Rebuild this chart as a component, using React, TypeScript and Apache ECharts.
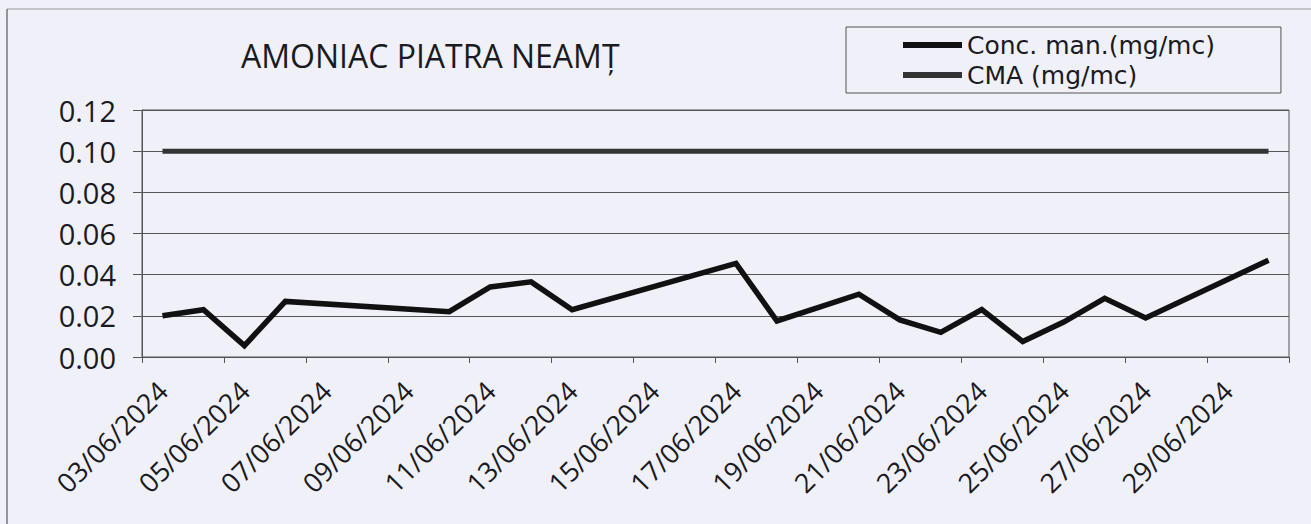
import React, { useEffect, useRef } from "react";
import * as echarts from "echarts";

const dates = [
  "03/06/2024", "04/06/2024", "05/06/2024", "06/06/2024", "07/06/2024", "08/06/2024", "09/06/2024",
  "10/06/2024", "11/06/2024", "12/06/2024", "13/06/2024", "14/06/2024", "15/06/2024", "16/06/2024",
  "17/06/2024", "18/06/2024", "19/06/2024", "20/06/2024", "21/06/2024", "22/06/2024", "23/06/2024",
  "24/06/2024", "25/06/2024", "26/06/2024", "27/06/2024", "28/06/2024", "29/06/2024", "30/06/2024",
];

const concMan: (number | null)[] = [
  0.020, 0.023, 0.0055, 0.027, null, null, null,
  0.022, 0.034, 0.0365, 0.023, null, null, null,
  0.0455, 0.0175, 0.024, 0.0305, 0.018, 0.012, 0.023,
  0.0075, 0.017, 0.0285, 0.019, null, null, 0.047,
];

const cma: number[] = dates.map(() => 0.1);

const seriesNames = ["Conc. man.(mg/mc)", "CMA (mg/mc)"];
const chartTitle = "AMONIAC PIATRA NEAMȚ";

const FONT = "'Open Sans', 'DejaVu Sans', sans-serif";
const LEGEND_FONT = "'DejaVu Sans', 'Open Sans', sans-serif";

export default function App() {
  const ref = useRef<HTMLDivElement>(null);
  useEffect(() => {
    if (!ref.current) return;
    const chart = echarts.init(ref.current, undefined, { renderer: "svg" });
    chart.setOption({
      animation: false,
      backgroundColor: "#eff0f8",
      title: {
        text: chartTitle,
        left: 236,
        top: 34,
        textStyle: { fontFamily: FONT, fontSize: 32, fontWeight: "normal", color: "#1a1a22" },
      },
      legend: {
        orient: "vertical",
        left: 846,
        top: 27,
        padding: [3, 66, 3, 57],
        itemGap: 0,
        itemWidth: 59,
        itemHeight: 6,
        icon: "rect",
        borderColor: "#555",
        borderWidth: 1,
        textStyle: { fontFamily: LEGEND_FONT, fontSize: 25, color: "#1a1a22", lineHeight: 30 },
        data: [
          { name: seriesNames[0], itemStyle: { color: "#111" } },
          { name: seriesNames[1], itemStyle: { color: "#333" } },
        ],
      },
      graphic: [
        {
          type: "line",
          shape: { x1: 7, y1: 9, x2: 1311, y2: 9 },
          style: { stroke: "#999", lineWidth: 1 },
          silent: true,
        },
        {
          type: "line",
          shape: { x1: 7, y1: 9, x2: 7, y2: 524 },
          style: { stroke: "#777", lineWidth: 1.5 },
          silent: true,
        },
      ],
      grid: {
        left: 142,
        right: 22,
        top: 110,
        bottom: 167,
        show: true,
        borderColor: "#555",
        borderWidth: 1,
        backgroundColor: "transparent",
      },
      xAxis: {
        type: "category",
        data: dates,
        boundaryGap: true,
        axisLine: { lineStyle: { color: "#555", width: 1 } },
        axisTick: { show: true, interval: 1, length: 6, lineStyle: { color: "#555" } },
        axisLabel: {
          interval: 1,
          rotate: 45,
          margin: 29,
          fontFamily: FONT,
          fontSize: 27,
          color: "#1a1a22",
        },
      },
      yAxis: {
        type: "value",
        min: 0,
        max: 0.12,
        interval: 0.02,
        axisLine: { show: true, lineStyle: { color: "#555", width: 1 } },
        axisTick: { show: true, length: 9, lineStyle: { color: "#555" } },
        splitLine: { show: true, lineStyle: { color: "#555", width: 1 } },
        axisLabel: {
          margin: 26,
          fontFamily: FONT,
          fontSize: 29,
          color: "#1a1a22",
          formatter: (v: number) => v.toFixed(2),
        },
      },
      series: [
        {
          name: seriesNames[0],
          type: "line",
          data: concMan,
          connectNulls: true,
          symbol: "none",
          lineStyle: { color: "#111", width: 5.5, join: "miter" },
          itemStyle: { color: "#111" },
          z: 3,
        },
        {
          name: seriesNames[1],
          type: "line",
          data: cma,
          symbol: "none",
          lineStyle: { color: "#333", width: 5 },
          itemStyle: { color: "#333" },
          z: 2,
        },
      ],
    });
    return () => chart.dispose();
  }, []);
  return (
    <div
      ref={ref}
      style={{ position: "fixed", left: 0, top: 0, width: 1311, height: 524 }}
    />
  );
}
